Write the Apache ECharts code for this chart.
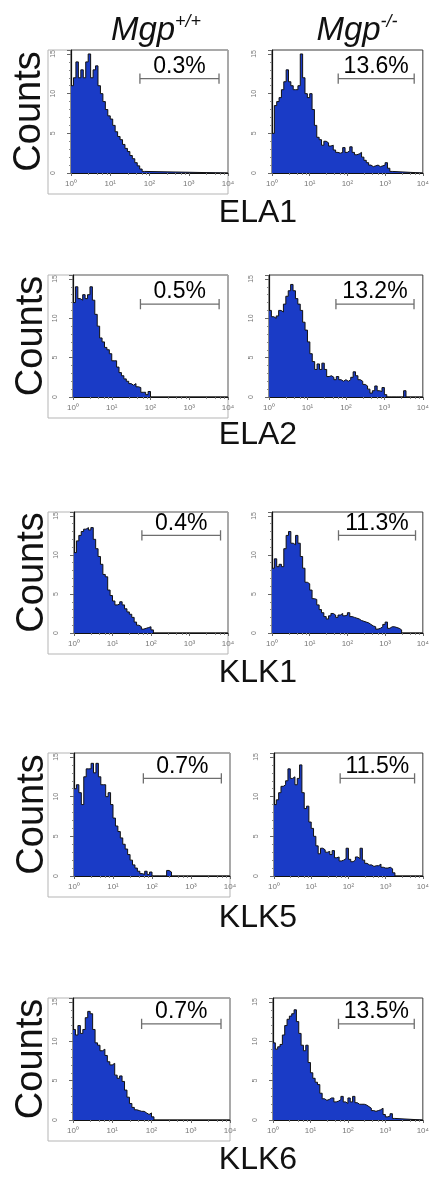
<!DOCTYPE html>
<html>
<head>
<meta charset="utf-8">
<title>Mgp flow histograms</title>
<script src="https://cdn.jsdelivr.net/npm/echarts@6/dist/echarts.min.js"></script>
<style>
  html, body { margin: 0; padding: 0; background: #fff; }
  #chart { width: 432px; height: 1180px; }
</style>
</head>
<body>
<div id="chart"></div>
<script>
// histogram bins: 16 per decade, starting at 10^0
const binsPerDecade = 16
const geneLabels = ['ELA1', 'ELA2', 'KLK1', 'KLK5', 'KLK6']
const genotypes = ['+/+', '-/-']
const xTickLabels = ['10\u2070', '10\u00b9', '10\u00b2', '10\u00b3', '10\u2074']
const yTickValues = [0, 5, 10, 15]

// counts per bin, Mgp+/+
const ela1WT = [11, 12, 14, 12, 13, 12, 14, 15, 12, 13, 13.5, 11, 10, 9, 8, 7.2, 6.8, 6, 5.2, 4.6, 4.2, 3.6, 3.1, 2.7, 2.2, 1.8, 1.3, 0.9, 0.5, 0.2]
const ela2WT = [12, 14, 12.5, 12.3, 13, 12.5, 13, 14, 12.3, 10.5, 9, 7.5, 7, 6.3, 6, 5.5, 4.6, 4.6, 3.8, 3.1, 2.7, 2.3, 2, 1.7, 1.5, 1.7, 1.3, 1.2, 0.6, 0.6, 0.3, 0.7]
const klk1WT = [10.3, 11.8, 12.5, 13, 13.3, 13.5, 13.2, 13.5, 12, 10.8, 9.8, 8.8, 7.5, 7.2, 5.5, 4.8, 4.1, 3.6, 3.7, 4, 3.6, 3.1, 2.7, 2.4, 2, 1.4, 1, 0.8, 0.5, 0.6, 0.7, 0.8, 0.4]
const klk5WT = [11, 11.5, 10.5, 9, 12.5, 13.5, 13.5, 14.2, 13, 14.2, 12.5, 11.5, 11.5, 10, 10.5, 9, 7.3, 6.3, 5.6, 4.8, 4, 3.4, 2.7, 2, 1.4, 1, 0.6, 0.3, 0.2, 0.6, 0.2, 0.5, 0, 0, 0, 0, 0, 0, 0.7, 0.5]
const klk6WT = [11.5, 10.8, 12, 11, 11.5, 13, 13.8, 13.5, 11.5, 9.8, 9.5, 8.8, 9, 8.2, 7.4, 7, 7.2, 5.7, 5.3, 5.6, 4.9, 3.8, 2.9, 2.1, 1.6, 1.3, 1.2, 1.1, 1.1, 0.9, 0.7, 0.9, 0.4]

// counts per bin, Mgp-/-
const ela1KO = [5, 8.5, 9, 9.5, 10.5, 11.5, 13, 11.5, 11, 10.5, 10.5, 11, 15, 12, 10, 9.5, 10, 8, 6, 4.5, 4.2, 3.5, 4, 3.8, 3.4, 3.5, 2.9, 2.6, 2.5, 2.6, 3.2, 2.6, 2.8, 3.3, 2.6, 2.3, 2.4, 2.6, 2, 1.6, 1.3, 1, 0.8, 0.9, 1, 0.8, 0.9, 1, 1.3, 0.6, 0.2]
const ela2KO = [11, 10.2, 10, 10.3, 11, 10.8, 11.8, 12.8, 13.5, 14.3, 13.5, 12.5, 11.8, 11, 9.5, 8.5, 7, 5.5, 4.5, 3.5, 4.2, 3.5, 4.3, 3.5, 2.6, 2.7, 2.5, 2.2, 2.6, 2.2, 2, 2.2, 2, 2.2, 2.5, 3.2, 2.7, 2.2, 2, 1.6, 1.4, 1, 0.5, 0.8, 1.4, 0.8, 0.7, 1.2, 0.3, 0, 0, 0, 0, 0, 0, 0, 0.8]
const klk1KO = [8.3, 9.5, 8.5, 8.8, 8.5, 10.8, 12.5, 13, 11.5, 11.3, 12.5, 11.5, 9.8, 8.3, 6.5, 6.3, 5.5, 4.4, 4.3, 3.6, 3, 2.6, 2.1, 1.8, 2.2, 2.5, 2.3, 2, 2.3, 2.5, 2.2, 2.3, 2.6, 2.1, 2, 1.9, 1.8, 1.6, 1.5, 1.4, 1.3, 1.1, 0.9, 0.8, 0.5, 0.6, 0.8, 1.1, 1.4, 0.6, 0.8, 0.8, 0.7, 0.6, 0.4]
const klk5KO = [9, 9.6, 10.5, 11.3, 11.5, 12, 13.5, 12.3, 12.5, 11.5, 12.3, 14, 10.5, 8.5, 8.8, 6.8, 6, 5, 3.8, 2.8, 3.5, 3.3, 3, 3.1, 2.7, 3.2, 2.3, 2.4, 1.9, 2, 2.2, 3.5, 2.1, 1.8, 2, 2.4, 2.2, 3.5, 2, 1.6, 1.4, 1.4, 1.2, 1.3, 1.3, 1.5, 1.1, 1, 1, 1.1, 0.9, 0.4]
const klk6KO = [9.8, 9, 9.3, 9.6, 10.8, 12, 12.8, 13.2, 13.5, 14, 12.5, 11, 9.5, 8.8, 9.5, 7.3, 6, 5.3, 4.8, 4.5, 3.4, 2.7, 2.5, 2.6, 2.8, 2.8, 2.3, 2.4, 2.6, 3, 2.3, 2.1, 2.8, 2.3, 3, 2.2, 2, 2, 2, 1.9, 1.7, 1.5, 1.2, 1.1, 1.2, 1.3, 1.5, 0.7, 0.4, 0.5, 0.8, 0.2]

const wtCounts = [ela1WT, ela2WT, klk1WT, klk5WT, klk6WT]
const koCounts = [ela1KO, ela2KO, klk1KO, klk5KO, klk6KO]

// gate percentages and gate markers
const pctWT = ['0.3%', '0.5%', '0.4%', '0.7%', '0.7%']
const pctKO = ['13.6%', '13.2%', '11.3%', '11.5%', '13.5%']
const gateLow = [57, 55, 58, 60, 56]
const gateHigh = [5900, 5900, 6400, 6000, 5900]
const gateLevel = [11.9, 11.8, 12.5, 12.3, 12.2]
const gateTick = 0.65

// plot boxes per row: [left, top, width, height] for wt / ko panels
const wtBoxes = [[71, 50, 157, 123], [73, 275, 155, 122], [74, 512, 154, 121], [74, 753, 156, 123], [73, 998, 157, 122]]
const koBoxes = [[272, 50, 156, 123], [269, 275, 158, 122], [272, 512, 156, 121], [274, 753, 155, 123], [273, 998, 156, 122]]
const geneLabelY = [192, 414, 652, 897, 1139]

const FONT = 'Liberation Sans, Arial, sans-serif'
const BLUE = '#1a3bc6'

function histPoints(counts) {
  const pts = counts.map((c, i) => [Math.pow(10, i / binsPerDecade), c])
  pts.push([Math.pow(10, counts.length / binsPerDecade), 0])
  pts.push([10000, 0])
  return pts
}

const chart = echarts.init(document.getElementById('chart'), null, { renderer: 'canvas' })

const grid = []
const xAxis = []
const yAxis = []
const series = []
const graphic = []

function addPanel(box, counts, row, pct, isWT) {
  const idx = grid.length
  grid.push({
    left: box[0], top: box[1], width: box[2], height: box[3],
    show: true, borderColor: '#3a3a3a', borderWidth: 1, backgroundColor: 'transparent'
  })
  xAxis.push({
    type: 'log', logBase: 10, min: 1, max: 10000, gridIndex: idx,
    axisLine: { lineStyle: { color: '#111', width: 1 } },
    axisTick: { show: true, length: 3, lineStyle: { color: '#666' } },
    minorTick: { show: true, splitNumber: 5, length: 2, lineStyle: { color: '#888' } },
    splitLine: { show: false },
    axisLabel: {
      fontSize: 8, color: '#777', fontFamily: FONT, margin: 7,
      formatter: (v) => xTickLabels[Math.round(Math.log10(v))] || ''
    }
  })
  yAxis.push({
    type: 'value', min: 0, max: 15.5, interval: 5, gridIndex: idx,
    name: isWT ? 'Counts' : '',
    nameLocation: 'middle', nameRotate: 90, nameGap: 22,
    nameTextStyle: { fontSize: 38, color: '#111', fontFamily: FONT },
    axisLine: { show: true, lineStyle: { color: '#111', width: 1.2 } },
    axisTick: { show: true, length: 4, lineStyle: { color: '#666' } },
    minorTick: { show: true, splitNumber: 5, length: 2, lineStyle: { color: '#888' } },
    splitLine: { show: false },
    axisLabel: {
      rotate: 90, fontSize: 7, color: '#777', fontFamily: FONT, margin: 14,
      formatter: (v) => (yTickValues.includes(v) ? String(v) : '')
    }
  })
  series.push({
    type: 'line', xAxisIndex: idx, yAxisIndex: idx,
    step: 'end', symbol: 'none', silent: true,
    data: histPoints(counts),
    lineStyle: { color: '#111', width: 1 },
    areaStyle: { color: BLUE, opacity: 1 },
    z: 2
  })
  const lo = gateLow[row]
  const hi = gateHigh[row]
  const lv = gateLevel[row]
  series.push({
    type: 'line', xAxisIndex: idx, yAxisIndex: idx,
    symbol: 'none', silent: true,
    data: [[lo, lv + gateTick], [lo, lv - gateTick], [lo, lv], [hi, lv], [hi, lv + gateTick], [hi, lv - gateTick]],
    lineStyle: { color: '#6e6e6e', width: 1.3 },
    z: 3
  })
  series.push({
    type: 'scatter', xAxisIndex: idx, yAxisIndex: idx,
    symbolSize: 1, silent: true,
    itemStyle: { color: 'transparent' },
    data: [[Math.sqrt(lo * hi), lv]],
    label: {
      show: true, position: 'top', distance: 0, opacity: 1,
      formatter: pct, fontSize: 23, color: '#000', fontFamily: FONT
    },
    z: 4
  })
  if (isWT) {
    // light outer frame around the left panel and its tick labels
    graphic.push({
      type: 'rect', silent: true, z: 0,
      shape: { x: 48, y: box[1], width: box[0] + box[2] - 48, height: box[3] + 21 },
      style: { fill: 'none', stroke: '#b5b5b5', lineWidth: 1 }
    })
  }
}

for (let r = 0; r < geneLabels.length; r++) {
  addPanel(wtBoxes[r], wtCounts[r], r, pctWT[r], true)
  addPanel(koBoxes[r], koCounts[r], r, pctKO[r], false)
}

const headerRich = {
  m: { fontSize: 33, fontStyle: 'italic', fontWeight: 'normal', fontFamily: FONT, color: '#111', lineHeight: 36 },
  s: { fontSize: 18, fontStyle: 'italic', fontWeight: 'normal', fontFamily: FONT, color: '#111', verticalAlign: 'top', lineHeight: 18 }
}
const titles = [
  {
    text: '{m|Mgp}{s|' + genotypes[0] + '}', left: 151, top: 8, textAlign: 'center',
    textStyle: { fontWeight: 'normal', rich: headerRich }
  },
  {
    text: '{m|Mgp}{s|' + genotypes[1] + '}', left: 352, top: 8, textAlign: 'center',
    textStyle: { fontWeight: 'normal', rich: headerRich }
  }
]
geneLabels.forEach((g, r) => {
  titles.push({
    text: g, left: 253, top: geneLabelY[r], textAlign: 'center',
    textStyle: { fontSize: 32, fontWeight: 'normal', fontFamily: FONT, color: '#111' }
  })
})

chart.setOption({
  animation: false,
  backgroundColor: '#fff',
  title: titles,
  grid,
  xAxis,
  yAxis,
  series,
  graphic
})
</script>
</body>
</html>
